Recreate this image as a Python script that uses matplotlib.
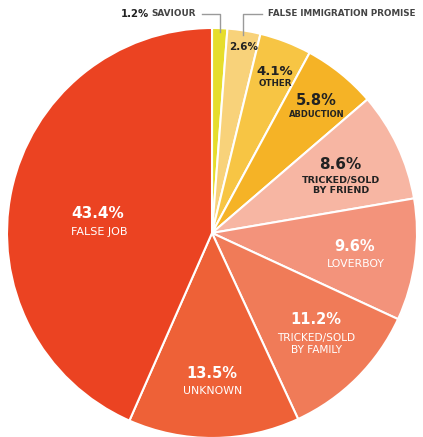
import numpy as np
import matplotlib.pyplot as plt

categories = ['SAVIOUR', 'FALSE IMMIGRATION PROMISE', 'OTHER', 'ABDUCTION',
              'TRICKED/SOLD\nBY FRIEND', 'LOVERBOY', 'TRICKED/SOLD\nBY FAMILY',
              'UNKNOWN', 'FALSE JOB']
values = [1.2, 2.6, 4.1, 5.8, 8.6, 9.6, 11.2, 13.5, 43.4]
colors = ['#E6DD2C', '#F8D27A', '#F7C544', '#F5B326', '#F7B6A3',
          '#F3937B', '#F07B58', '#EE6137', '#EB4322']
text_colors = ['#222222', '#222222', '#222222', '#222222', '#222222',
               'white', 'white', 'white', 'white']

# where the percentage sits: fraction of radius, angle tweak in degrees
label_r = [None, 0.92, 0.846, 0.82, 0.707, 0.70, 0.66, 0.683, 0.565]
angle_adj = [0, -0.5, 0, 0.7, 2.8, 2, 5, -0.5, 2]
pct_size = [7.3, 7.5, 9.5, 10.5, 11, 10.5, 10.5, 10.5, 11]
name_size = [6.4, 6.3, 6.3, 6.0, 6.8, 7.8, 7.6, 7.8, 8.0]
name_gap = [0, 0, 12.5, 14, 15, 17.5, 17.5, 18, 18.5]  # px from pct centre to first line

W, H = 423, 437
cx, cy, R = 212, 233, 205
px = 1 / R

fig = plt.figure(figsize=(W / 100, H / 100), dpi=100)
ax = fig.add_axes([0, 0, 1, 1])

wedges, _ = ax.pie(values, colors=colors, startangle=90, counterclock=False,
                   radius=1, wedgeprops=dict(edgecolor='white', linewidth=1.5))
ax.set_xlim(-cx * px, (W - cx) * px)
ax.set_ylim(-(H - cy) * px, cy * px)
ax.set_aspect('equal')
ax.axis('off')

font = 'DejaVu Sans'
ty = (cy - 14) * px
for i, w in enumerate(wedges):
    mid = np.deg2rad((w.theta1 + w.theta2) / 2 + angle_adj[i])
    pct = f'{values[i]:.1f}%'
    if i == 0:
        # saviour, labelled outside with a leader
        x0 = np.cos(mid)
        ax.plot([x0, x0, x0 - 18 * px], [np.sin(mid) - 4 * px, ty, ty],
                color='#9a9a9a', lw=1)
        ax.text(x0 - 68 * px, ty, categories[i], ha='left', va='center',
                fontsize=name_size[i], fontweight='bold', color='#444444', family=font)
        ax.text(x0 - 71 * px, ty, pct, ha='right', va='center',
                fontsize=pct_size[i], fontweight='bold', color='#222222', family=font)
        continue
    r = label_r[i]
    x, y = r * np.cos(mid), r * np.sin(mid)
    ax.text(x, y, pct, ha='center', va='center', fontsize=pct_size[i],
            fontweight='bold', color=text_colors[i], family=font)
    if i == 1:
        x0 = x
        ax.plot([x0, x0, x0 + 19 * px], [y + 12 * px, ty, ty], color='#9a9a9a', lw=1)
        ax.text(x0 + 25 * px, ty, categories[i], ha='left', va='center',
                fontsize=name_size[i], fontweight='bold', color='#444444', family=font)
        continue
    nlines = categories[i].count('\n') + 1
    step = name_size[i] * 1.39 * 1.2
    ly = y - (name_gap[i] + (nlines - 1) * step / 2) * px
    weight = 'bold' if text_colors[i] != 'white' else 'normal'
    ax.text(x + 1 * px, ly, categories[i], ha='center', va='center',
            fontsize=name_size[i], fontweight=weight, color=text_colors[i],
            family=font, linespacing=1.2)

fig.savefig('out.png', dpi=100, facecolor='white')
